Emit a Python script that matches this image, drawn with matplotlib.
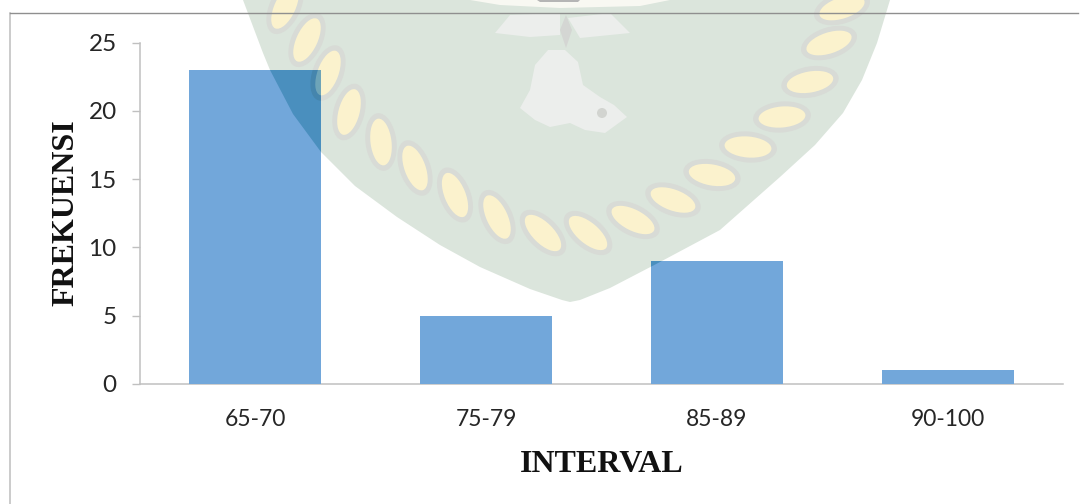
import matplotlib
matplotlib.use('Agg')
import matplotlib.pyplot as plt
from matplotlib.patches import Polygon, Ellipse, Circle

categories = ['65-70', '75-79', '85-89', '90-100']
frequencies = [23, 5, 9, 1]
yticks = [0, 5, 10, 15, 20, 25]

W, H = 1083, 504

# watermark outline and rope links, all in image pixels
shield = [(243, 0), (263, 53), (270, 70), (293, 114), (321, 152), (355, 186), (397, 217), (440, 245), (480, 267),
          (530, 289), (562, 300), (570, 302), (580, 300), (610, 288), (660, 262), (720, 230), (780, 177), (815, 145),
          (843, 113), (862, 80), (877, 43), (890, 0)]
link_x = [285, 307, 328, 349, 381, 415, 455, 497, 543, 588, 633, 673, 712, 748, 782, 810, 829, 842]
link_y = [7, 40, 73, 112, 142, 168, 195, 217, 233, 233, 220, 200, 175, 147, 117, 82, 43, 8]
link_lean = [25, 25, 20, 15, -7, -20, -22, -25, -45, -50, -63, -70, -80, -85, 85, 80, 72, 72]

fig = plt.figure(figsize=(W/100, H/100), dpi=100, facecolor='white')


def draw_watermark(a, fill, rim, cream, clip=None):
    parts = [Polygon(shield, closed=True, fc=fill, ec='none')]
    for x, y, t in zip(link_x, link_y, link_lean):
        parts.append(Ellipse((x, y), 31, 58, angle=t, fc=rim, ec='none'))
    for x, y, t in zip(link_x, link_y, link_lean):
        parts.append(Ellipse((x, y), 21, 47, angle=t, fc=cream, ec='none'))
    for p in parts:
        a.add_patch(p)
        if clip is not None:
            p.set_clip_path(clip)


# background layer in pixel coordinates
bg = fig.add_axes([0, 0, 1, 1])
bg.set_xlim(0, W)
bg.set_ylim(H, 0)
bg.axis('off')
draw_watermark(bg, '#dbe5dc', '#d8dbd6', '#fbf2cd')

# bits of the crest in the middle
grey = '#eceeec'
bg.add_patch(Polygon([(520, 108), (530, 90), (535, 65), (548, 50), (565, 50), (578, 62), (583, 85), (600, 97),
                      (614, 105), (627, 117), (605, 133), (585, 130), (570, 123), (550, 127), (535, 120)],
                     closed=True, fc=grey, ec='none'))
bg.add_patch(Circle((602, 113), 5, fc='#d2d4d0', ec='none'))
bg.add_patch(Polygon([(495, 33), (510, 15), (560, 13), (560, 35), (530, 37)], closed=True, fc=grey, ec='none'))
bg.add_patch(Polygon([(568, 18), (610, 13), (630, 33), (600, 36), (580, 38)], closed=True, fc=grey, ec='none'))
bg.add_patch(Polygon([(560, 30), (566, 15), (572, 30), (566, 48)], closed=True, fc='#d4d6d3', ec='none'))
bg.add_patch(Polygon([(470, 0), (670, 0), (640, 6), (560, 8), (500, 5)], closed=True, fc='#f8f8f2', ec='none'))
bg.add_patch(Polygon([(537, 0), (580, 0), (578, 2), (540, 2)], closed=True, fc='#b5b5b5', ec='none'))

# chart frame
bg.plot([10, 10], [504, 12.7], color='#bdbdbd', lw=1.1)
bg.plot([10, 1078], [12.7, 12.7], color='#8f8f8f', lw=1.0)

ax = fig.add_axes([140/W, 1-383.7/H, 923/W, 341/H], facecolor='none')
bars = ax.bar(range(4), frequencies, width=0.572, color='#72a7da', zorder=3)
ax.set_xlim(-0.5, 3.5)
ax.set_ylim(0, 25)
ax.set_xticks(range(4))
ax.set_xticklabels(categories, fontsize=16.5, family='Lato', color='#262626')
ax.set_yticks(yticks)
ax.set_yticklabels(yticks, fontsize=17.5, family='Lato', color='#262626')
ax.tick_params(axis='x', length=0, pad=18.5)
ax.tick_params(axis='y', length=5.8, width=1.0, color='#c0c0c0', pad=11)
for s in ['top', 'right']:
    ax.spines[s].set_visible(False)
ax.spines['left'].set_color('#c0c0c0')
ax.spines['bottom'].set_color('#c0c0c0')
ax.spines['left'].set_linewidth(1.1)
ax.spines['bottom'].set_linewidth(1.1)

# watermark shows through the bars, darker
top = fig.add_axes([0, 0, 1, 1], facecolor='none')
top.set_xlim(0, W)
top.set_ylim(H, 0)
top.axis('off')
for b in bars:
    draw_watermark(top, '#4a8fbe', '#4585ad', '#6ea4b8', clip=b)

fig.text(602/W, 1-464/H, 'INTERVAL', fontsize=23, family='Liberation Serif', weight='bold', ha='center', va='center', color='#111111')
fig.text(66/W, 1-212.5/H, 'FREKUENSI', fontsize=23, family='Liberation Serif', weight='bold', rotation=90, ha='center', va='center', color='#111111')

fig.savefig('out.png', dpi=100)
